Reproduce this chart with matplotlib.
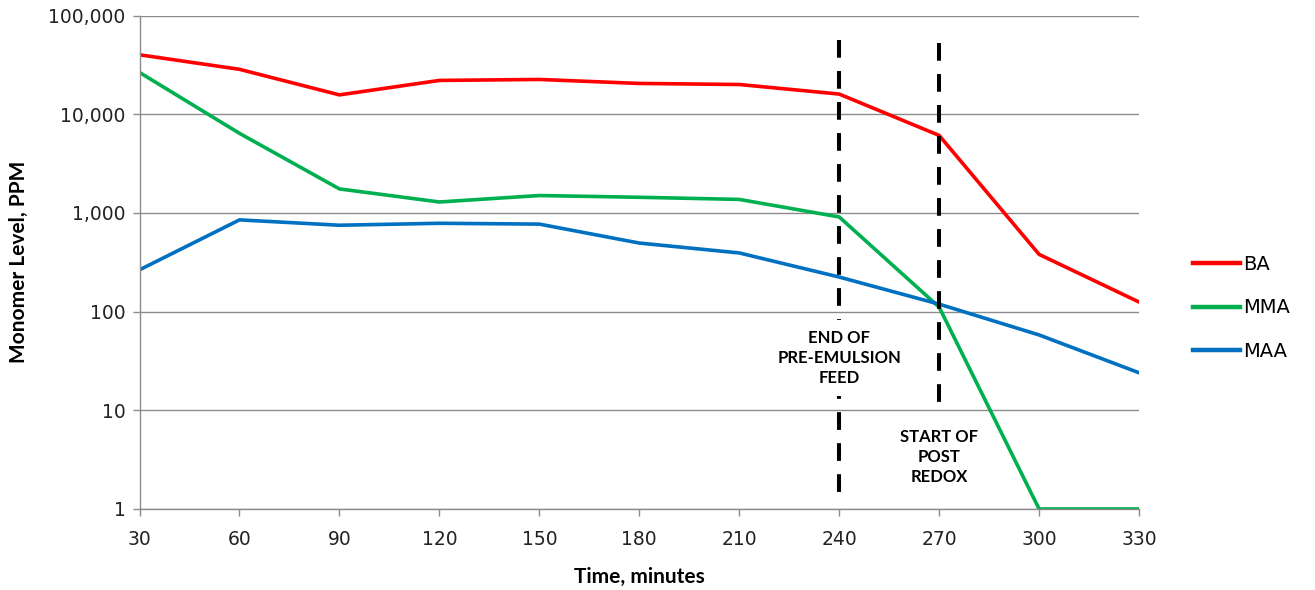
import matplotlib
matplotlib.use("Agg")
import matplotlib.pyplot as plt
from matplotlib.ticker import FixedLocator, FuncFormatter, NullLocator
from matplotlib.lines import Line2D

plt.rcParams['font.family'] = ['Lato', 'DejaVu Sans']

minutes = [30, 60, 90, 120, 150, 180, 210, 240, 270, 300, 330]
ba = [40000, 28500, 15700, 22000, 22500, 20500, 20000, 16000, 6100, 380, 125]
mma = [26500, 6400, 1750, 1290, 1500, 1440, 1370, 910, 111, 1, 1]
maa = [265, 850, 750, 785, 770, 495, 393, 224, 119, 58, 24]

series = [("BA", ba, "#FF0000"), ("MMA", mma, "#00B050"), ("MAA", maa, "#0070C0")]

end_feed = 240
start_redox = 270

fig = plt.figure(figsize=(13.15, 5.9), dpi=100)
ax = fig.add_axes([0.1061, 0.1373, 0.7601, 0.8364])

for name, vals, col in series:
    ax.plot(minutes, vals, color=col, lw=2.6, label=name, solid_joinstyle='round')

ax.set_yscale('log')
ax.set_ylim(1, 100000)
ax.set_xlim(30, 330)

grid_col = '#8C8C8C'
tick_font = ['DejaVu Sans']
ax.yaxis.set_major_locator(FixedLocator([1, 10, 100, 1000, 10000, 100000]))
ax.yaxis.set_minor_locator(NullLocator())
ax.yaxis.set_major_formatter(FuncFormatter(lambda v, p: f"{int(round(v)):,}"))
ax.set_xticks(minutes)
ax.grid(axis='y', color=grid_col, lw=1)
ax.set_axisbelow(True)

for s in ['top', 'right']:
    ax.spines[s].set_visible(False)
for s in ['left', 'bottom']:
    ax.spines[s].set_color(grid_col)
    ax.spines[s].set_linewidth(1)
ax.tick_params(axis='both', colors=grid_col, length=5, width=1, labelsize=13.5,
               labelcolor='#222222')
ax.tick_params(axis='x', pad=10)
ax.tick_params(axis='y', pad=5)
for lbl in ax.get_xticklabels() + ax.get_yticklabels():
    lbl.set_family(tick_font)

ax.set_xlabel("Time, minutes", fontsize=15, fontweight='bold', labelpad=13)
ax.set_ylabel("Monomer Level, PPM", fontsize=15, fontweight='bold', labelpad=14)

# dashed markers drawn top-down so the dash pattern starts at the top
dash = (0, (4.4, 3.3))
vtrans = ax.get_xaxis_transform()
ax.plot([end_feed, end_feed], [0.95, 0.018], transform=vtrans,
        color='black', lw=2.9, ls=dash)
ax.plot([start_redox, start_redox], [0.944, 0.205], transform=vtrans,
        color='black', lw=2.9, ls=dash)

box = dict(facecolor='white', edgecolor='none', pad=7)
ax.text(end_feed, 10 ** 1.53, "END OF\nPRE-EMULSION\nFEED", ha='center', va='center',
        fontsize=12, fontweight='bold', linespacing=1.3, color='black', bbox=box,
        zorder=5)
ax.text(start_redox, 10 ** 0.53, "START OF\nPOST\nREDOX", ha='center', va='center',
        fontsize=12, fontweight='bold', linespacing=1.3, color='black', bbox=box,
        zorder=5)

handles = [Line2D([0], [0], color=c, lw=3.2) for _, _, c in series]
leg = fig.legend(handles, [n for n, _, _ in series], loc='center left',
                 bbox_to_anchor=(0.894, 0.478), frameon=False,
                 prop={'family': 'DejaVu Sans', 'size': 14},
                 handlelength=2.4, handletextpad=0.15, labelspacing=1.25)

fig.savefig("out.png", dpi=100)
